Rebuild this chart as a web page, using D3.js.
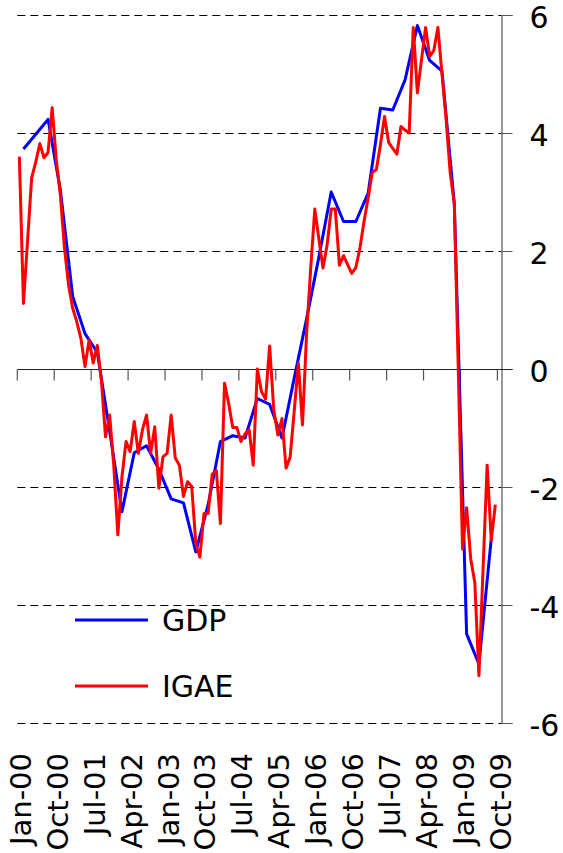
<!DOCTYPE html>
<html>
<head>
<meta charset="utf-8">
<script src="https://cdn.jsdelivr.net/npm/d3@7"></script>
<style>
  html, body { margin: 0; padding: 0; background: #fff; }
  svg { display: block; }
  text { font-family: "DejaVu Sans", sans-serif; }
</style>
</head>
<body>
<svg id="chart" width="563" height="853"></svg>
<script>
// ---- data ----
const tickLabels = ["Jan-00","Oct-00","Jul-01","Apr-02","Jan-03","Oct-03","Jul-04","Apr-05","Jan-06","Oct-06","Jul-07","Apr-08","Jan-09","Oct-09"];
const nMonths = 118; // Jan-00 .. Oct-09 categories
// IGAE, monthly, Jan-00 .. Sep-09
const igae = [
  3.6, 1.11, 2.17, 3.24, 3.51, 3.82, 3.58, 3.67, 4.43, 3.54, 2.95, 2.05,
  1.42, 1.03, 0.8, 0.52, 0.04, 0.49, 0.1, 0.4, -0.2, -1.15, -0.78, -1.63,
  -2.81, -1.83, -1.23, -1.4, -0.89, -1.43, -1.03, -0.78, -1.43, -0.98, -2.02, -1.49,
  -1.43, -0.78, -1.51, -1.63, -2.16, -1.91, -1.99, -2.95, -3.19, -2.45, -2.45, -1.78,
  -1.72, -2.62, -0.24, -0.58, -0.99, -0.99, -1.23, -1.1, -1.03, -1.63, 0.0, -0.38,
  -0.51, 0.39, -0.69, -1.12, -0.84, -1.68, -1.49, -0.7, 0.1, -0.95, 0.6, 1.7,
  2.71, 2.2, 1.71, 2.1, 2.71, 2.71, 1.76, 1.92, 1.77, 1.62, 1.72, 2.05,
  2.5, 2.9, 3.33, 3.38, 3.8, 4.28, 3.84, 3.74, 3.64, 4.11, 4.05, 4.0,
  5.79, 4.68, 5.24, 5.79, 5.3, 5.4, 5.79, 5.0, 4.24, 3.32, 2.81, -0.1,
  -3.05, -2.35, -3.22, -3.62, -5.2, -3.4, -1.63, -2.9, -2.3
];
// GDP, quarterly, 2000Q1 .. 2009Q3 (plotted at mid-quarter month)
const gdp = [
  3.73, 3.98, 4.23, 3.03, 1.23, 0.6, 0.28, -1.05, -2.42, -1.42, -1.3, -1.7,
  -2.2, -2.27, -3.1, -2.3, -1.23, -1.13, -1.17, -0.5, -0.6, -1.17, -0.15, 0.85,
  1.9, 3.0, 2.5, 2.5, 2.98, 4.42, 4.39, 4.9, 5.82, 5.23, 5.05, 2.8,
  -4.49, -5.0, -2.88
];
const yTicks = [-6, -4, -2, 0, 2, 4, 6];
const seriesNames = ["GDP", "IGAE"];
const seriesColors = ["#0000FF", "#FF0000"];

// ---- drawing ----
const svg = d3.select("#chart");
const x = d3.scaleLinear().domain([0, nMonths]).range([17.3, 501.5]);
const y = d3.scaleLinear().domain([-6, 6]).range([723, 15]);
const axisX = 501.5;

// dashed gridlines
svg.append("g").selectAll("line")
  .data(yTicks.filter(d => d !== 0))
  .join("line")
  .attr("x1", x(0)).attr("x2", axisX)
  .attr("y1", d => Math.round(y(d)) + 0.5).attr("y2", d => Math.round(y(d)) + 0.5)
  .attr("stroke", "#000").attr("stroke-width", 1)
  .attr("stroke-dasharray", "8,5");

// right value axis
const yAxis = d3.axisRight(y).tickValues(yTicks).tickSize(11).tickPadding(17)
  .tickFormat(d3.format("d"));
const gy = svg.append("g").attr("transform", `translate(${axisX},0)`).call(yAxis);
gy.select(".domain").attr("stroke", "#555").attr("stroke-width", 1.2);
gy.selectAll(".tick line").attr("stroke", "#555");
gy.selectAll(".tick text")
  .attr("font-family", "DejaVu Sans").attr("font-size", 30)
  .attr("fill", "#000").attr("dy", "0.42em").attr("text-anchor", "start")
  .text(d => d < 0 ? "-" + Math.abs(d) : d);

// zero category axis
const y0 = Math.round(y(0)) + 0.5;
svg.append("line").attr("x1", x(0)).attr("x2", axisX + 11)
  .attr("y1", y0).attr("y2", y0).attr("stroke", "#222").attr("stroke-width", 1.2);
const tickIdx = d3.range(0, nMonths, 9);
svg.append("g").selectAll("line").data(tickIdx).join("line")
  .attr("x1", d => x(d)).attr("x2", d => x(d))
  .attr("y1", y0).attr("y2", y0 + 11)
  .attr("stroke", "#555").attr("stroke-width", 1.2);

// category labels (rotated)
svg.append("g").selectAll("text").data(tickLabels).join("text")
  .attr("transform", (d, i) => `translate(${x(i * 9 + 0.5) + 1},753) rotate(-90)`)
  .attr("text-anchor", "end").attr("dy", "0.36em")
  .attr("font-size", 29).attr("fill", "#000")
  .text(d => d);

// lines
const lineGen = d3.line().x(d => x(d[0] + 0.5)).y(d => y(d[1]));
const gdpPts = gdp.map((v, q) => [q * 3 + 1, v]);
const igaePts = igae.map((v, i) => [i, v]);
svg.append("path").datum(gdpPts).attr("d", lineGen)
  .attr("fill", "none").attr("stroke", seriesColors[0]).attr("stroke-width", 3)
  .attr("stroke-linejoin", "round");
svg.append("path").datum(igaePts).attr("d", lineGen)
  .attr("fill", "none").attr("stroke", seriesColors[1]).attr("stroke-width", 3)
  .attr("stroke-linejoin", "round");

// legend
const legY = [620, 686];
const lg = svg.append("g").selectAll("g").data(seriesNames).join("g");
lg.append("line").attr("x1", 75).attr("x2", 148)
  .attr("y1", (d, i) => legY[i]).attr("y2", (d, i) => legY[i])
  .attr("stroke", (d, i) => seriesColors[i]).attr("stroke-width", 3);
lg.append("text").attr("x", 162).attr("y", (d, i) => legY[i]).attr("dy", "0.36em")
  .attr("font-size", 30).attr("fill", "#000").text(d => d);
</script>
</body>
</html>
